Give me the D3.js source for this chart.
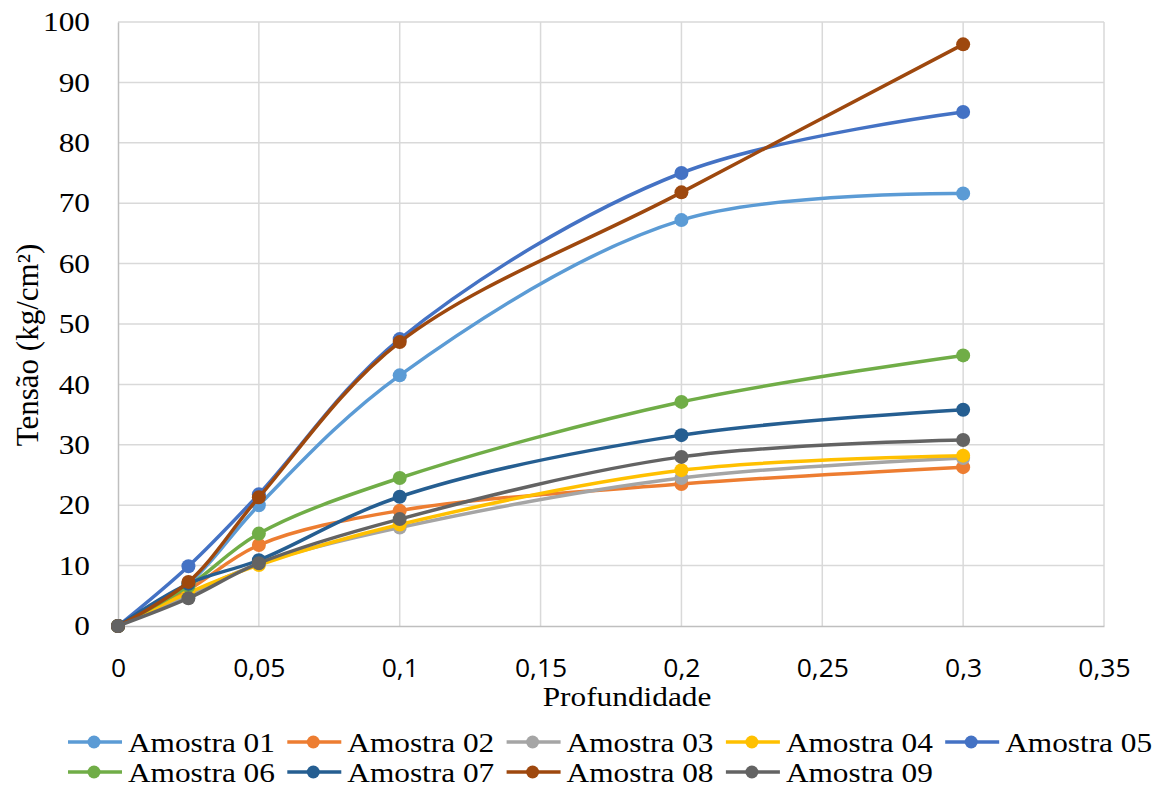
<!DOCTYPE html>
<html>
<head>
<meta charset="utf-8">
<script src="https://cdn.jsdelivr.net/npm/d3@7"></script>
<style>
  body { margin: 0; background: #fff; }
  svg { display: block; }
</style>
</head>
<body>
<div id="chart"></div>
<script>
// depth values (x) and stress per sample (y)
var depths = [0, 0.025, 0.05, 0.1, 0.2, 0.3]
var seriesNames = ["Amostra 01", "Amostra 02", "Amostra 03", "Amostra 04", "Amostra 05",
                   "Amostra 06", "Amostra 07", "Amostra 08", "Amostra 09"]
var am01 = [0, 7.0, 20.0, 41.5, 67.2, 71.6]
var am02 = [0, 6.0, 13.4, 19.1, 23.5, 26.3]
var am03 = [0, 5.2, 10.3, 16.3, 24.5, 27.8]
var am04 = [0, 5.5, 10.1, 16.8, 25.8, 28.2]
var am05 = [0, 9.9, 21.8, 47.5, 75.0, 85.1]
var am06 = [0, 6.6, 15.3, 24.5, 37.1, 44.8]
var am07 = [0, 7.0, 10.9, 21.4, 31.6, 35.8]
var am08 = [0, 7.3, 21.3, 47.0, 71.8, 96.3]
var am09 = [0, 4.6, 10.4, 17.7, 28.0, 30.8]
var allValues = [am01, am02, am03, am04, am05, am06, am07, am08, am09]
var colors = ["#5B9BD5", "#ED7D31", "#A5A5A5", "#FFC000", "#4472C4",
              "#70AD47", "#255E91", "#9E480E", "#636363"]
var xTicks = [0, 0.05, 0.1, 0.15, 0.2, 0.25, 0.3, 0.35]
var yTicks = [0, 10, 20, 30, 40, 50, 60, 70, 80, 90, 100]

var W = 1162, H = 787
var SX = 1.16   // the original picture is stretched sideways
var serif = "'Liberation Serif', serif"

var svg = d3.select("#chart").append("svg")
    .attr("width", W)
    .attr("height", H)

var x = d3.scaleLinear().domain([0, 0.35]).range([118, 1104])
var y = d3.scaleLinear().domain([0, 100]).range([626, 22])

var fmt = function (d) { return String(d).replace(".", ",") }

// gridlines
svg.append("g").selectAll("line")
    .data(yTicks.slice(1))
    .join("line")
    .attr("x1", x(0)).attr("x2", x(0.35))
    .attr("y1", d => y(d)).attr("y2", d => y(d))
    .attr("stroke", "#d9d9d9").attr("stroke-width", 1.5)
svg.append("g").selectAll("line")
    .data(xTicks.slice(1))
    .join("line")
    .attr("x1", d => x(d)).attr("x2", d => x(d))
    .attr("y1", y(0)).attr("y2", y(100))
    .attr("stroke", "#d9d9d9").attr("stroke-width", 1.5)

// axes
var yAxis = svg.append("g")
    .attr("transform", "translate(" + x(0) + ",0)")
    .call(d3.axisLeft(y).tickValues(yTicks).tickSize(0).tickPadding(0))
yAxis.select(".domain").attr("stroke", "#bfbfbf").attr("stroke-width", 1.5)
yAxis.selectAll("text")
    .attr("x", -28 / SX)
    .attr("transform", "scale(" + SX + ",1)")
    .attr("font-family", null)
    .style("font-family", serif)
    .style("font-size", "27px")
    .attr("fill", "#000")

var xAxis = svg.append("g")
    .attr("transform", "translate(0," + y(0) + ")")
    .call(d3.axisBottom(x).tickValues(xTicks).tickFormat(fmt).tickSize(0).tickPadding(0))
xAxis.select(".domain").attr("stroke", "#bfbfbf").attr("stroke-width", 1.5)
xAxis.selectAll("text")
    .attr("dy", null)
    .attr("y", 51)
    .attr("transform", "scale(1.06,1)")
    .style("font-family", "'Open Sans', sans-serif")
    .style("font-size", "25px")
    .attr("fill", "#000")

// axis titles
svg.append("text")
    .attr("transform", "translate(627,706) scale(" + SX + ",1)")
    .attr("text-anchor", "middle")
    .style("font-family", serif)
    .style("font-size", "27px")
    .text("Profundidade")
svg.append("text")
    .attr("transform", "translate(38,345) rotate(-90)")
    .attr("text-anchor", "middle")
    .style("font-family", serif)
    .style("font-size", "31px")
    .text("Tensão (kg/cm²)")

// series
var line = d3.line()
    .x((d, i) => x(depths[i]))
    .y(d => y(d))
    .curve(d3.curveCatmullRom.alpha(0.5))

allValues.forEach(function (vals, k) {
    var g = svg.append("g")
    g.append("path")
        .attr("d", line(vals))
        .attr("fill", "none")
        .attr("stroke", colors[k])
        .attr("stroke-width", 3.5)
    g.selectAll("circle")
        .data(vals)
        .join("circle")
        .attr("cx", (d, i) => x(depths[i]))
        .attr("cy", d => y(d))
        .attr("r", 7)
        .attr("fill", colors[k])
})

// legend
var legend = svg.append("g")
seriesNames.forEach(function (name, k) {
    var col = k % 5, row = Math.floor(k / 5)
    var lx = 68 + col * 219.3, ly = 742 + row * 30
    var item = legend.append("g").attr("transform", "translate(" + lx + "," + ly + ")")
    item.append("line")
        .attr("x1", 0).attr("x2", 54)
        .attr("stroke", colors[k]).attr("stroke-width", 3.5)
    item.append("circle")
        .attr("cx", 26).attr("r", 6.5)
        .attr("fill", colors[k])
    item.append("text")
        .attr("transform", "translate(60,9.5) scale(" + SX + ",1)")
        .style("font-family", serif)
        .style("font-size", "27px")
        .text(name)
})
</script>
</body>
</html>
